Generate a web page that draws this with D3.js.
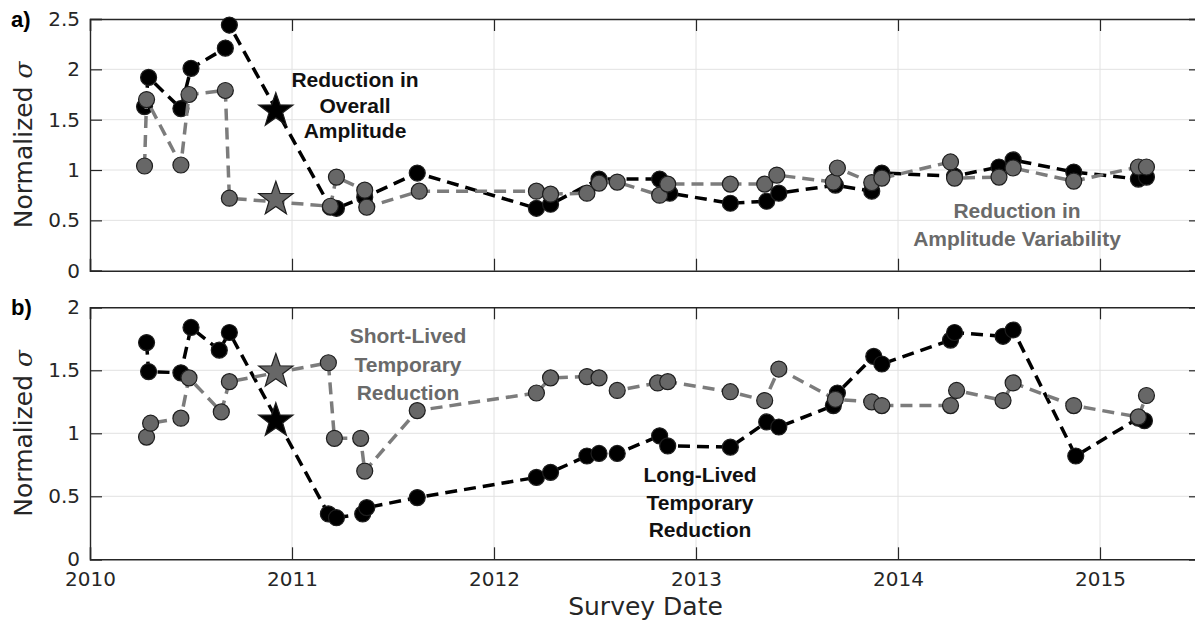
<!DOCTYPE html>
<html>
<head>
<meta charset="utf-8">
<script src="https://cdn.jsdelivr.net/npm/d3@7"></script>
<style>
  body { margin: 0; background: #fff; }
  svg { display: block; }
</style>
</head>
<body>
<div id="chart"></div>
<script>
// ======================
// 1. DATA
// ======================
// panel a) black series
const aBlackDates = [2010.27, 2010.29, 2010.45, 2010.50, 2010.67, 2010.69, 2011.19, 2011.22, 2011.36, 2011.62,
  2012.21, 2012.28, 2012.52, 2012.82, 2012.87, 2013.17, 2013.35, 2013.41, 2013.69, 2013.87, 2013.92,
  2014.28, 2014.50, 2014.57, 2014.87, 2015.19, 2015.23];
const aBlackVals = [1.63, 1.92, 1.61, 2.01, 2.21, 2.44, 0.63, 0.62, 0.73, 0.97,
  0.62, 0.66, 0.91, 0.91, 0.77, 0.67, 0.69, 0.77, 0.85, 0.79, 0.97,
  0.94, 1.03, 1.10, 0.98, 0.91, 0.93];
// panel a) gray series
const aGrayDates = [2010.27, 2010.28, 2010.45, 2010.49, 2010.67, 2010.69, 2011.19, 2011.22, 2011.36, 2011.37, 2011.63,
  2012.21, 2012.28, 2012.46, 2012.52, 2012.61, 2012.82, 2012.86, 2013.17, 2013.34, 2013.40,
  2013.68, 2013.70, 2013.87, 2013.92, 2014.26, 2014.28, 2014.50, 2014.57, 2014.87, 2015.19, 2015.23];
const aGrayVals = [1.04, 1.70, 1.05, 1.75, 1.79, 0.72, 0.64, 0.93, 0.80, 0.63, 0.79,
  0.79, 0.76, 0.77, 0.87, 0.88, 0.75, 0.86, 0.86, 0.86, 0.95,
  0.88, 1.02, 0.875, 0.92, 1.08, 0.92, 0.93, 1.02, 0.89, 1.03, 1.03];

// panel b) black series
const bBlackDates = [2010.28, 2010.29, 2010.45, 2010.50, 2010.64, 2010.69, 2011.18, 2011.22, 2011.35, 2011.37, 2011.62,
  2012.21, 2012.28, 2012.46, 2012.52, 2012.61, 2012.82, 2012.86, 2013.17, 2013.35, 2013.41,
  2013.68, 2013.70, 2013.88, 2013.92, 2014.26, 2014.28, 2014.52, 2014.57, 2014.88, 2015.19, 2015.22];
const bBlackVals = [1.72, 1.49, 1.48, 1.84, 1.66, 1.80, 0.36, 0.33, 0.36, 0.41, 0.49,
  0.65, 0.69, 0.82, 0.84, 0.84, 0.98, 0.90, 0.89, 1.09, 1.05,
  1.22, 1.32, 1.61, 1.55, 1.74, 1.80, 1.77, 1.82, 0.82, 1.12, 1.10];
// panel b) gray series
const bGrayDates = [2010.28, 2010.30, 2010.45, 2010.49, 2010.65, 2010.69, 2011.18, 2011.21, 2011.34, 2011.36, 2011.62,
  2012.21, 2012.28, 2012.46, 2012.52, 2012.61, 2012.81, 2012.86, 2013.17, 2013.34, 2013.41,
  2013.69, 2013.87, 2013.92, 2014.26, 2014.29, 2014.52, 2014.57, 2014.87, 2015.19, 2015.23];
const bGrayVals = [0.97, 1.08, 1.12, 1.44, 1.17, 1.41, 1.56, 0.96, 0.96, 0.70, 1.18,
  1.32, 1.44, 1.45, 1.44, 1.34, 1.40, 1.41, 1.33, 1.26, 1.51,
  1.27, 1.25, 1.22, 1.22, 1.34, 1.26, 1.40, 1.22, 1.13, 1.30];

// star markers (date, value)
const aStarDate = 2010.92;
const aStarBlack = 1.59;
const aStarGray = 0.71;
const bStarDate = 2010.92;
const bStarBlack = 1.10;
const bStarGray = 1.49;

// ticks
const xTicks = [2010, 2011, 2012, 2013, 2014, 2015];
const aYTicks = [0, 0.5, 1, 1.5, 2, 2.5];
const bYTicks = [0, 0.5, 1, 1.5, 2];

// annotations
const aBlackNote = ["Reduction in", "Overall", "Amplitude"];
const aGrayNote = ["Reduction in", "Amplitude Variability"];
const bGrayNote = ["Short-Lived", "Temporary", "Reduction"];
const bBlackNote = ["Long-Lived", "Temporary", "Reduction"];

// ======================
// 2. CONFIGURATION
// ======================
const config = {
  width: 1195,
  height: 634,
  left: 90,
  right: 1201,
  colors: {
    black: "#000",
    grayFill: "#676767",
    grayLine: "#7c7c7c",
    edge: "#1e1e1e",
    axis: "#262626",
    grid: "#e2e2e2",
    note: "#6a6a6a"
  },
  radius: 8,
  starRadius: 18,
  tickFont: "20px 'DejaVu Sans'",
  noteFont: "bold 21px 'Liberation Sans', Arial, sans-serif"
};

const svg = d3.select("#chart").append("svg")
  .attr("width", config.width)
  .attr("height", config.height)
  .style("font-family", "'DejaVu Sans', sans-serif");

const x = d3.scaleLinear().domain([2010, 2015.5]).range([config.left, config.right]);

function zip(dates, vals) {
  return dates.map((d, i) => ({ date: d, value: vals[i] }));
}

function starPath(r) {
  const pts = [];
  for (let i = 0; i < 10; i++) {
    const rr = i % 2 === 0 ? r : r * 0.4;
    const a = -Math.PI / 2 + i * Math.PI / 5;
    pts.push([rr * Math.cos(a), rr * Math.sin(a)]);
  }
  return "M" + pts.map(p => p.join(",")).join("L") + "Z";
}

// ======================
// 3. PANEL
// ======================
function drawPanel(opts) {
  const y = d3.scaleLinear().domain(opts.yDomain).range([opts.bottom, opts.top]);
  const g = svg.append("g");

  // grid
  g.append("g").selectAll("line.v").data(xTicks.slice(1)).enter().append("line")
    .attr("x1", d => x(d)).attr("x2", d => x(d))
    .attr("y1", opts.top).attr("y2", opts.bottom)
    .attr("stroke", config.colors.grid).attr("stroke-width", 1);
  g.append("g").selectAll("line.h").data(opts.yTicks.slice(1, -1)).enter().append("line")
    .attr("x1", config.left).attr("x2", config.right)
    .attr("y1", d => y(d)).attr("y2", d => y(d))
    .attr("stroke", config.colors.grid).attr("stroke-width", 1);

  // axes (MATLAB-style box with inward ticks)
  const tickLen = 12;
  const axisLeft = d3.axisLeft(y).tickValues(opts.yTicks).tickSize(-tickLen).tickPadding(10).tickFormat(d3.format("~g"));
  const axisRight = d3.axisRight(y).tickValues(opts.yTicks).tickSize(-tickLen).tickFormat("");
  const axisBottom = d3.axisBottom(x).tickValues(xTicks).tickSize(-tickLen).tickPadding(13)
    .tickFormat(opts.xLabels ? d3.format("d") : "");
  const axisTop = d3.axisTop(x).tickValues(xTicks).tickSize(-tickLen).tickFormat("");

  const axes = [
    [axisLeft, `translate(${config.left},0)`],
    [axisRight, `translate(${config.right},0)`],
    [axisBottom, `translate(0,${opts.bottom})`],
    [axisTop, `translate(0,${opts.top})`]
  ];
  axes.forEach(([ax, tr]) => {
    const a = g.append("g").attr("transform", tr).call(ax);
    a.select(".domain").attr("stroke", config.colors.axis).attr("stroke-width", 1.4);
    a.selectAll(".tick line").attr("stroke", config.colors.axis).attr("stroke-width", 1.2);
    a.selectAll(".tick text").style("font", config.tickFont).attr("fill", config.colors.axis);
  });

  // series
  opts.series.forEach(s => {
    const line = d3.line().x(d => x(d.date)).y(d => y(d.value));
    g.append("path")
      .datum(s.data)
      .attr("d", line)
      .attr("fill", "none")
      .attr("stroke", s.lineColor)
      .attr("stroke-width", 3.5)
      .attr("stroke-dasharray", "12,7");
    g.append("g").selectAll("circle").data(s.data).enter().append("circle")
      .attr("cx", d => x(d.date))
      .attr("cy", d => y(d.value))
      .attr("r", config.radius)
      .attr("fill", s.fill)
      .attr("stroke", config.colors.edge)
      .attr("stroke-width", 1.2);
  });

  // stars
  opts.stars.forEach(s => {
    g.append("path")
      .attr("d", starPath(config.starRadius))
      .attr("transform", `translate(${x(s.date)},${y(s.value)})`)
      .attr("fill", s.fill)
      .attr("stroke", config.colors.edge)
      .attr("stroke-width", 1.2);
  });

  // annotations
  opts.notes.forEach(n => {
    const t = g.append("text")
      .attr("text-anchor", "middle")
      .attr("fill", n.color)
      .style("font", config.noteFont);
    n.lines.forEach((l, i) => {
      t.append("tspan").attr("x", n.x).attr("y", n.y + i * n.dy).text(l);
    });
  });

  // panel letter
  svg.append("text")
    .attr("x", 11).attr("y", opts.top + 8)
    .style("font", "bold 22px 'Liberation Sans', Arial, sans-serif")
    .attr("fill", "#000")
    .text(opts.letter);

  // y label
  const yl = svg.append("text")
    .attr("transform", `translate(32,${(opts.top + opts.bottom) / 2}) rotate(-90)`)
    .attr("text-anchor", "middle")
    .attr("fill", config.colors.axis)
    .style("font", "25px 'DejaVu Sans'");
  yl.append("tspan").text("Normalized ");
  yl.append("tspan").style("font-style", "italic").style("font-family", "'DejaVu Serif'").text("σ");
}

// ======================
// 4. DRAW
// ======================
drawPanel({
  letter: "a)",
  top: 19,
  bottom: 270.7,
  yDomain: [0, 2.5],
  yTicks: aYTicks,
  xLabels: false,
  series: [
    { data: zip(aBlackDates, aBlackVals), fill: config.colors.black, lineColor: config.colors.black },
    { data: zip(aGrayDates, aGrayVals), fill: config.colors.grayFill, lineColor: config.colors.grayLine }
  ],
  stars: [
    { date: aStarDate, value: aStarBlack, fill: config.colors.black },
    { date: aStarDate, value: aStarGray, fill: config.colors.grayFill }
  ],
  notes: [
    { lines: aBlackNote, x: 355, y: 87, dy: 25.5, color: "#111" },
    { lines: aGrayNote, x: 1017, y: 218, dy: 28, color: config.colors.note }
  ]
});

drawPanel({
  letter: "b)",
  top: 307.3,
  bottom: 559.3,
  yDomain: [0, 2],
  yTicks: bYTicks,
  xLabels: true,
  series: [
    { data: zip(bBlackDates, bBlackVals), fill: config.colors.black, lineColor: config.colors.black },
    { data: zip(bGrayDates, bGrayVals), fill: config.colors.grayFill, lineColor: config.colors.grayLine }
  ],
  stars: [
    { date: bStarDate, value: bStarGray, fill: config.colors.grayFill },
    { date: bStarDate, value: bStarBlack, fill: config.colors.black }
  ],
  notes: [
    { lines: bGrayNote, x: 408, y: 343, dy: 28.5, color: config.colors.note },
    { lines: bBlackNote, x: 700, y: 482, dy: 27.5, color: "#111" }
  ]
});

// x label
svg.append("text")
  .attr("x", (config.left + config.right) / 2)
  .attr("y", 615)
  .attr("text-anchor", "middle")
  .attr("fill", config.colors.axis)
  .style("font", "25px 'DejaVu Sans'")
  .text("Survey Date");
</script>
</body>
</html>
